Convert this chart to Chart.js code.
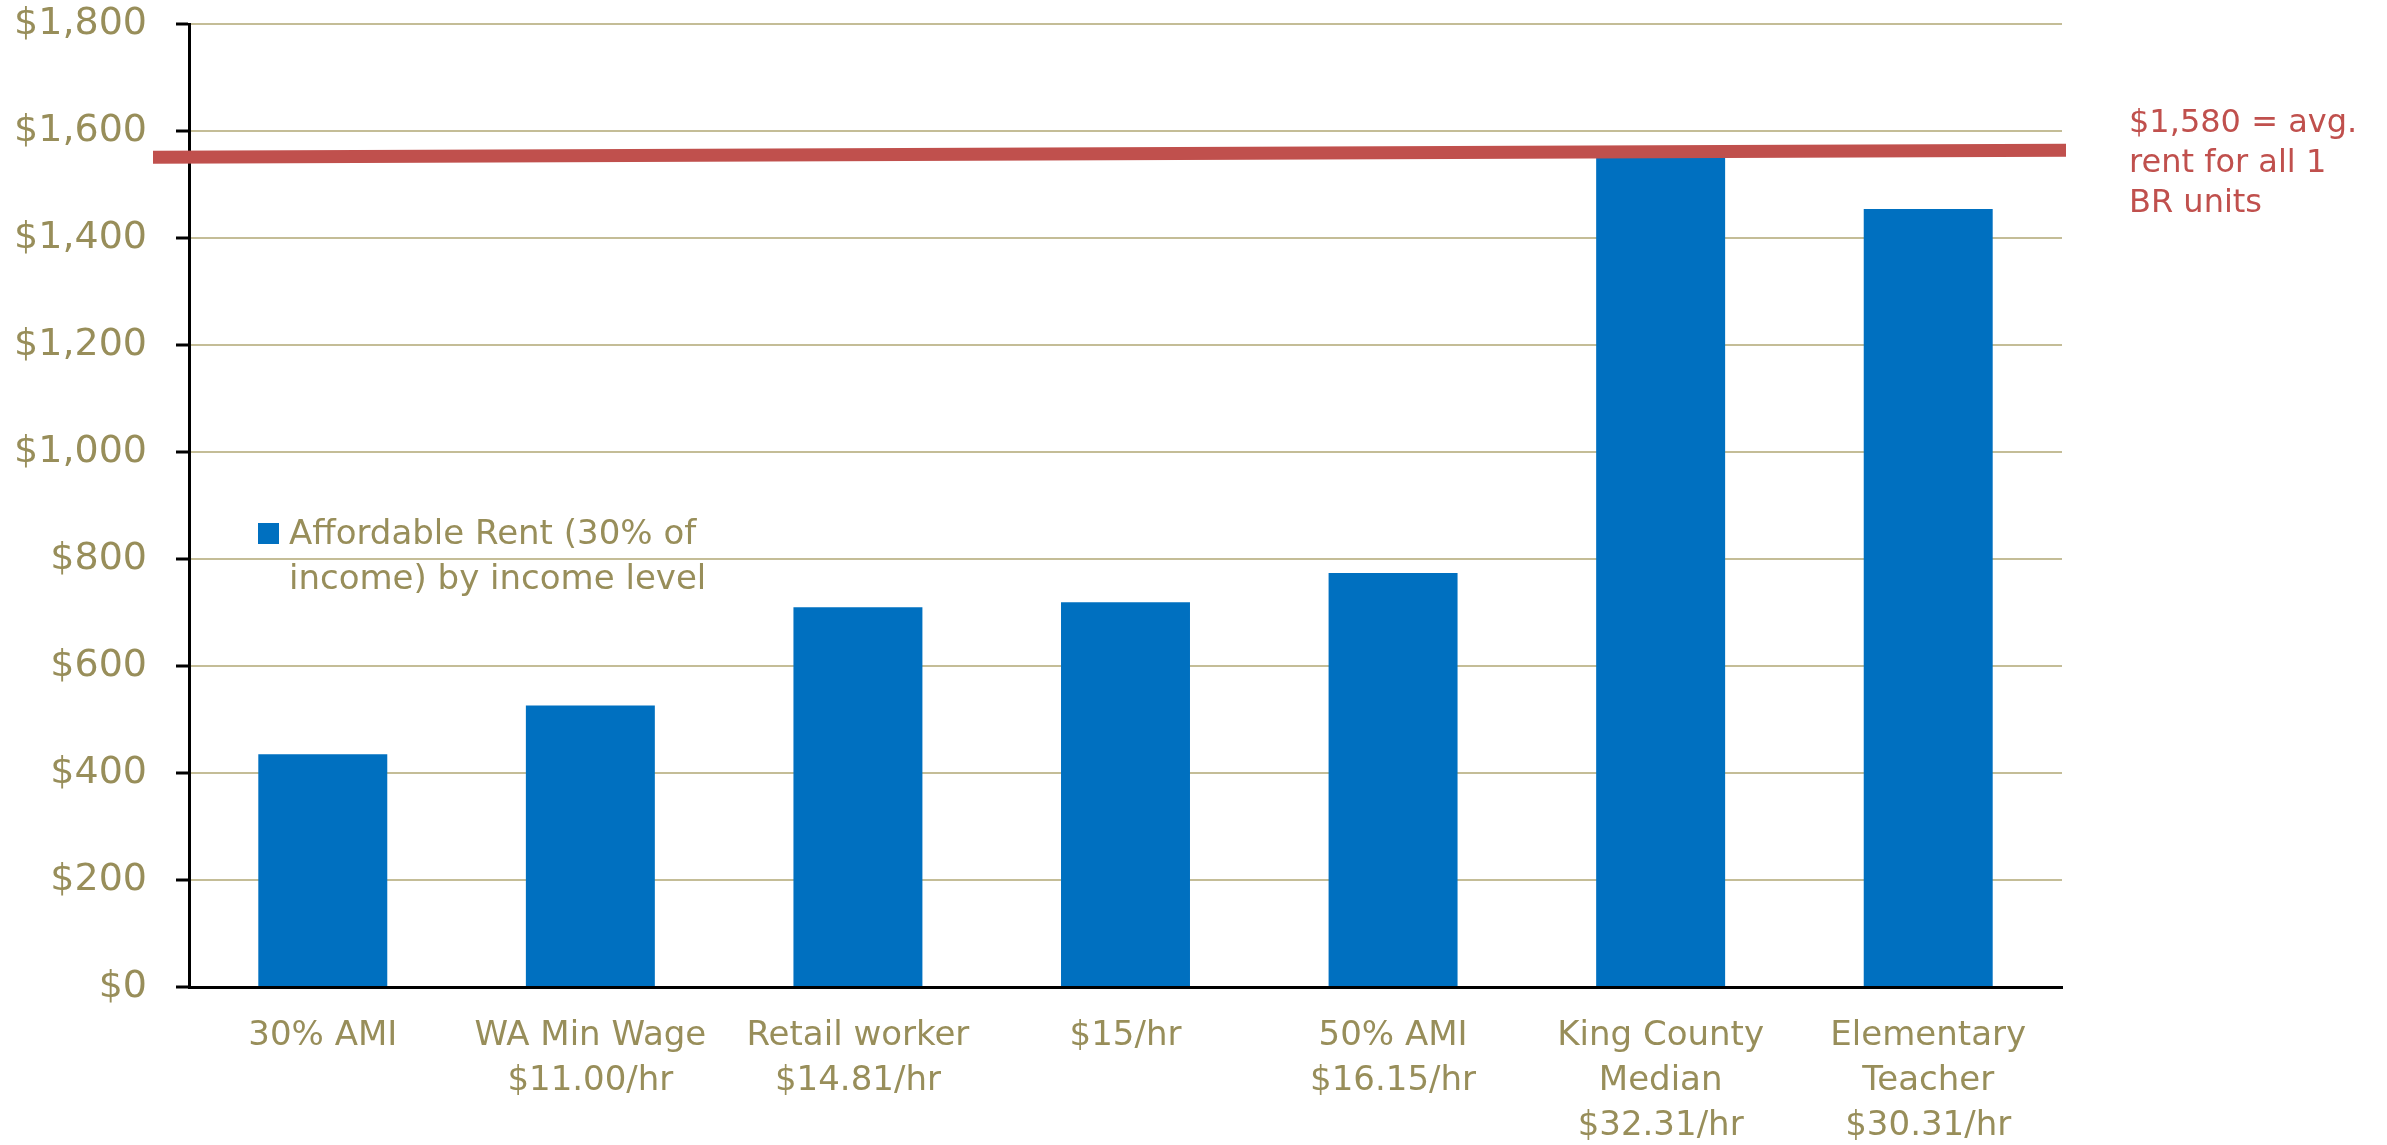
<!doctype html>
<html>
<head>
	<title>Affordable Rent by income level</title>
	<script src="https://cdn.jsdelivr.net/npm/chart.js@4/dist/chart.umd.min.js"></script>
	<style>
		body { margin: 0; background: #fff; }
		#canvas-holder { width: 2387px; height: 1145px; }
	</style>
</head>

<body>
	<div id="canvas-holder">
		<canvas id="chart-area"></canvas>
	</div>
	<script>
		// data
		var categories = [
			['30% AMI'],
			['WA Min Wage', '$11.00/hr'],
			['Retail worker', '$14.81/hr'],
			['$15/hr'],
			['50% AMI', '$16.15/hr'],
			['King County', 'Median', '$32.31/hr'],
			['Elementary', 'Teacher', '$30.31/hr']
		];
		var rentValues = [435, 526, 710, 719, 774, 1555, 1454];
		var seriesLabel = 'Affordable Rent (30% of income) by income level';
		var legendLines = ['Affordable Rent (30% of', 'income) by income level'];
		// the red line is drawn a little tilted: level at left end, level at right end
		var avgRentLevel = [1551, 1564];
		var avgRentNote = ['$1,580 = avg.', 'rent for all 1', 'BR units'];
		var yTicks = [0, 200, 400, 600, 800, 1000, 1200, 1400, 1600, 1800];

		var tan = '#988E5A';
		var red = '#C0504D';
		var blue = '#0070C0';

		Chart.defaults.font.family = '"DejaVu Sans", sans-serif';

		var overlay = {
			id: 'overlay',
			afterDatasetsDraw: function(chart) {
				var ctx = chart.ctx;
				var area = chart.chartArea;
				var y = chart.scales.y;
				ctx.save();

				// avg rent line
				ctx.strokeStyle = red;
				ctx.lineWidth = 13;
				ctx.beginPath();
				ctx.moveTo(area.left - 36, y.getPixelForValue(avgRentLevel[0]));
				ctx.lineTo(area.right + 4, y.getPixelForValue(avgRentLevel[1]));
				ctx.stroke();

				// note next to it
				ctx.fillStyle = red;
				ctx.font = '32px "DejaVu Sans"';
				ctx.textAlign = 'left';
				ctx.textBaseline = 'middle';
				var noteY = y.getPixelForValue(avgRentLevel[1]) - 27;
				avgRentNote.forEach(function(line, i) {
					ctx.fillText(line, area.right + 67, noteY + i * 40);
				});

				// legend inside the plot
				ctx.fillStyle = blue;
				ctx.fillRect(area.left + 69, area.top + 499, 21, 21);
				ctx.fillStyle = tan;
				ctx.font = '34px "DejaVu Sans"';
				ctx.textBaseline = 'alphabetic';
				legendLines.forEach(function(line, i) {
					ctx.fillText(line, area.left + 100, area.top + 520 + i * 45);
				});

				ctx.restore();
			}
		};

		var config = {
			type: 'bar',
			data: {
				labels: categories,
				datasets: [{
					label: seriesLabel,
					data: rentValues,
					backgroundColor: blue,
					borderWidth: 0,
					barPercentage: 0.482,
					categoryPercentage: 1
				}]
			},
			options: {
				responsive: true,
				maintainAspectRatio: false,
				animation: false,
				layout: {
					autoPadding: false,
					padding: { left: 0, top: 24, right: 325, bottom: 0 }
				},
				plugins: {
					legend: { display: false },
					tooltip: { enabled: false }
				},
				scales: {
					x: {
						grid: { display: false, drawTicks: false },
						border: { display: true, color: '#000', width: 3 },
						ticks: {
							color: tan,
							font: { size: 34, lineHeight: 1.32 },
							padding: 27,
							maxRotation: 0,
							autoSkip: false
						},
						afterFit: function(scale) {
							scale.height = 158;
							scale.paddingLeft = 0;
							scale.paddingRight = 0;
						}
					},
					y: {
						min: 0,
						max: 1800,
						afterBuildTicks: function(scale) {
							scale.ticks = yTicks.map(function(v) { return { value: v }; });
						},
						grid: {
							color: '#C4BD97',
							lineWidth: 2,
							tickColor: '#000',
							tickWidth: 3,
							tickLength: 13
						},
						border: { display: true, color: '#000', width: 3 },
						ticks: {
							color: tan,
							font: { size: 38 },
							padding: 29,
							callback: function(v) { return '$' + v.toLocaleString('en-US'); }
						},
						afterFit: function(scale) {
							scale.width = 189;
							scale.paddingTop = 0;
							scale.paddingBottom = 0;
						}
					}
				}
			},
			plugins: [overlay]
		};

		window.onload = function() {
			var ctx = document.getElementById('chart-area').getContext('2d');
			window.myBar = new Chart(ctx, config);
		};
	</script>
</body>

</html>
